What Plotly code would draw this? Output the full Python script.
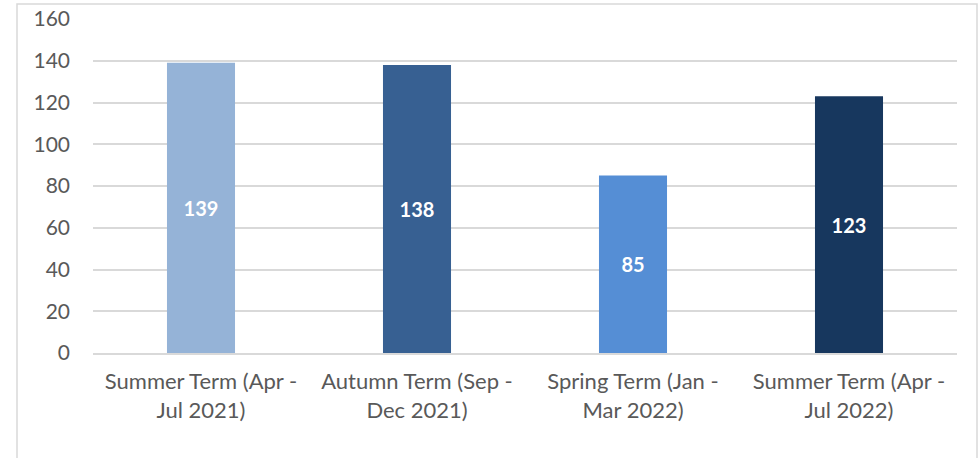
import plotly.graph_objects as go

categories = ["Summer Term (Apr -<br>Jul 2021)", "Autumn Term (Sep -<br>Dec 2021)",
              "Spring Term (Jan -<br>Mar 2022)", "Summer Term (Apr -<br>Jul 2022)"]
values = [139, 138, 85, 123]
colors = ["#95B3D7", "#376092", "#558ED5", "#17375E"]

W, H = 980, 458
L, R, T, B = 93, 23, 19, 105
pw, ph = W - L - R, H - T - B

fig = go.Figure(go.Bar(
    x=categories, y=values, marker_color=colors, marker_line_width=0,
    text=[str(v) for v in values], textposition="inside", insidetextanchor="middle",
    textfont=dict(family="Lato, Carlito, sans-serif", size=20, color="white", weight="bold"),
    textangle=0, cliponaxis=False, hoverinfo="skip",
))

def px_x(x): return (x - L) / pw
def px_y(y): return (H - B - y) / ph

fig.update_layout(
    width=W, height=H, margin=dict(l=L, r=R, t=T, b=B, autoexpand=False),
    plot_bgcolor="white", paper_bgcolor="white",
    bargap=0.685, showlegend=False,
    font=dict(family="Lato, Carlito, sans-serif", size=21, color="#595959"),
    xaxis=dict(showgrid=False, showline=True, linecolor="#D9D9D9", linewidth=2,
               ticks="", automargin=False, ticklabelstandoff=8,
               tickfont=dict(size=22, color="#595959")),
    yaxis=dict(range=[0, 160], dtick=20, showgrid=True, gridcolor="#D9D9D9", gridwidth=1.5,
               zeroline=False, ticks="", ticklabelstandoff=22, automargin=False,
               tickfont=dict(size=21, color="#595959")),
    shapes=[dict(type="rect", xref="paper", yref="paper",
                 x0=px_x(17), x1=px_x(977), y0=px_y(470), y1=px_y(4),
                 line=dict(color="#D9D9D9", width=1.5), fillcolor="rgba(0,0,0,0)", layer="below")],
)

fig.write_html("out.html", config={"displayModeBar": False},
               post_script="document.body.style.margin='0';")
